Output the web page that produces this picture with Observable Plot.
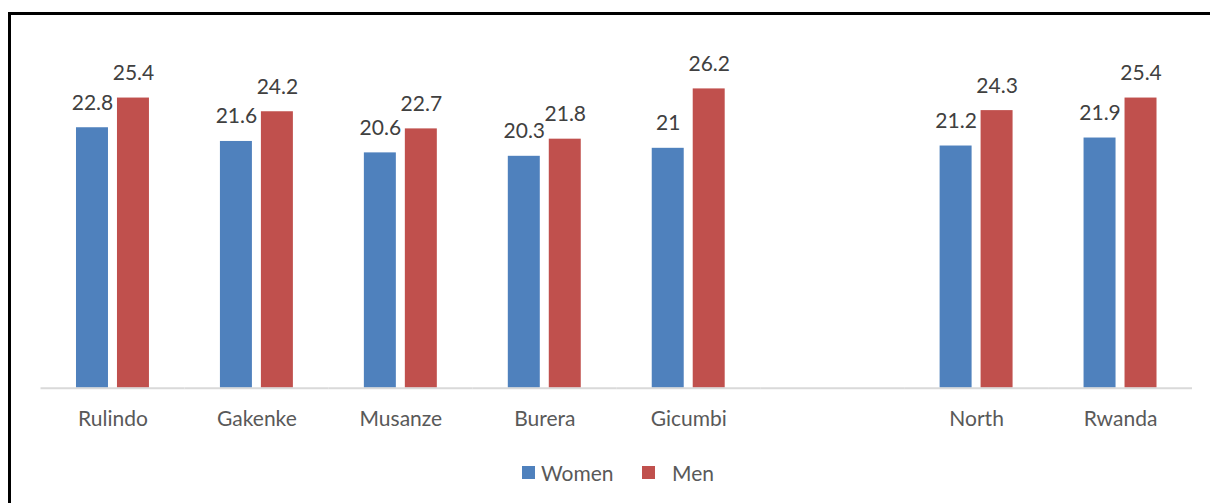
<!DOCTYPE html>
<html>
<head>
<meta charset="utf-8">
<script src="https://cdn.jsdelivr.net/npm/d3@7"></script>
<script src="https://cdn.jsdelivr.net/npm/@observablehq/plot@0.6"></script>
<style>
  html, body { margin: 0; padding: 0; background: #fff; width: 1210px; height: 503px; overflow: hidden; }
  #frame { position: absolute; left: 8px; top: 12px; width: 1300px; height: 600px;
           border-top: 3px solid #000; border-left: 3px solid #000; box-sizing: border-box; }
  #chart { position: absolute; left: 0; top: 0; }
  #legend { position: absolute; left: 0; top: 445px; width: 1210px; height: 58px;
            font-family: Lato, "Open Sans", sans-serif; font-size: 21px; color: #595959; }
  .item { position: absolute; top: 15px; display: flex; align-items: center; }
  .sw { width: 13px; height: 13px; display: inline-block; margin-right: 6px; }
</style>
</head>
<body>
<div id="frame"></div>
<div id="chart"></div>
<div id="legend"></div>
<script>
const categories = ["Rulindo", "Gakenke", "Musanze", "Burera", "Gicumbi", "(gap)", "North", "Rwanda"];
const regions = ["Rulindo", "Gakenke", "Musanze", "Burera", "Gicumbi", "North", "Rwanda"];
const women = [22.8, 21.6, 20.6, 20.3, 21.0, 21.2, 21.9];
const men = [25.4, 24.2, 22.7, 21.8, 26.2, 24.3, 25.4];
const series = ["Women", "Men"];
const colors = ["#4F81BD", "#C0504D"];

const data = [];
regions.forEach((r, i) => {
  data.push({region: r, sex: "Women", value: women[i]});
  data.push({region: r, sex: "Men", value: men[i]});
});

const chart = Plot.plot({
  width: 1210,
  height: 445,
  marginLeft: 40.5,
  marginRight: 18,
  marginTop: 45,
  marginBottom: 57.3,
  style: {fontFamily: "Lato, 'Open Sans', sans-serif", background: "transparent"},
  fx: {domain: categories, padding: 0, round: false, label: null, tickSize: 0, tickPadding: 23,
       tickFormat: d => d === "(gap)" ? "" : d},
  x: {domain: series, paddingInner: 9 / 41, paddingOuter: 0.866, round: false, axis: null},
  y: {domain: [0, 30], axis: null},
  color: {domain: series, range: colors},
  marks: [
    Plot.barY(data, {fx: "region", x: "sex", y: "value", fill: "sex"}),
    Plot.ruleY(categories, {fx: d => d, y: () => 0, stroke: "#d9d9d9", strokeWidth: 2}),
    Plot.text(data, {fx: "region", x: "sex", y: "value", text: d => String(d.value),
      lineAnchor: "bottom", dy: -18, fontSize: 21, fill: "#404040"})
  ]
});
const ax = chart.querySelector('[aria-label="fx-axis tick label"]');
if (ax) { ax.setAttribute("font-size", "21"); ax.setAttribute("fill", "#595959"); }
document.getElementById("chart").appendChild(chart);

const legend = document.getElementById("legend");
const pos = [522, 642];
series.forEach((s, i) => {
  const it = document.createElement("div");
  it.className = "item";
  it.style.left = pos[i] + "px";
  const sw = document.createElement("span");
  sw.className = "sw";
  sw.style.background = colors[i];
  if (i === 1) sw.style.marginRight = "17px";
  it.appendChild(sw);
  it.appendChild(document.createTextNode(s));
  legend.appendChild(it);
});
</script>
</body>
</html>
